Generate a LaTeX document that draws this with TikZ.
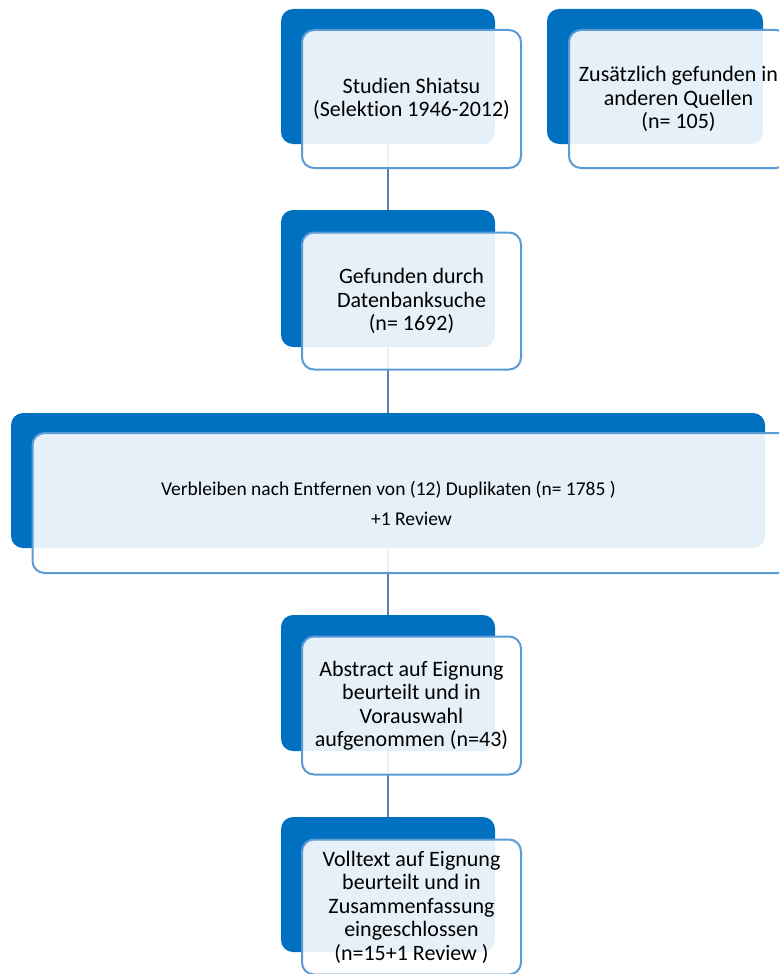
\documentclass[tikz,border=0pt]{standalone}
\usepackage{fontspec}
\setmainfont[Ligatures=NoCommon]{Carlito}
\definecolor{darkblue}{RGB}{0,112,192}
\definecolor{edgeblue}{RGB}{91,155,213}
\definecolor{linkblue}{RGB}{84,130,185}
\begin{document}
\begin{tikzpicture}[x=1pt,y=-1pt,
    back/.style={fill=darkblue, rounded corners=12pt, inner sep=0pt,
        minimum width=214pt, minimum height=135pt},
    front/.style={draw=edgeblue, line width=2pt, fill=white, fill opacity=0.9,
        text opacity=1, rounded corners=12pt, inner sep=0pt, align=center,
        minimum width=219pt, minimum height=138pt, xshift=23.5pt, yshift=-22.5pt,
        font=\fontsize{22}{23.5}\selectfont},
    link/.style={draw=linkblue, line width=2pt}]
    \useasboundingbox (0,0) rectangle (779,974);
    \clip (0,0) rectangle (779,974);
    % dark back boxes
    \node [back] (b1) at (388,76.5) {};
    \node [back, minimum width=216pt] (b2) at (655,76.5) {};
    \node [back, minimum height=137pt] (b3) at (388,278.5) {};
    \node [back, minimum width=754pt] (b4) at (388,480.5) {};
    \node [back, minimum height=136pt] (b5) at (388,683) {};
    \node [back] (b6) at (388,884.5) {};
    % connectors
    \draw [link] (b1.south) -- (b3.north);
    \draw [link] (b3.south) -- (b4.north);
    \draw [link] (b4.south) -- (b5.north);
    \draw [link] (b5.south) -- (b6.north);
    % front boxes
    \node [front] (f1) at (b1) {Studien Shiatsu\\(Selektion 1946-2012)};
    \node [front] (f2) at (b2) {Zusätzlich gefunden in\\anderen Quellen\\(n= 105)};
    \node [front, minimum height=137pt] (f3) at (b3) {Gefunden durch\\Datenbanksuche\\(n= 1692)};
    \node [front, minimum width=758pt, minimum height=140pt,
        font=\fontsize{19.5}{21}\selectfont] (f4) at (b4)
        {Verbleiben nach Entfernen von (12) Duplikaten (n= 1785 )\hspace*{46pt}\\[9pt]+1 Review};
    \node [front] (f5) at (b5) {Abstract auf Eignung\\beurteilt und in\\Vorauswahl\\aufgenommen (n=43)};
    \node [front, minimum height=135pt] (f6) at (b6)
        {Volltext auf Eignung\\beurteilt und in\\Zusammenfassung\\eingeschlossen\\(n=15+1 Review )};
\end{tikzpicture}
\end{document}
